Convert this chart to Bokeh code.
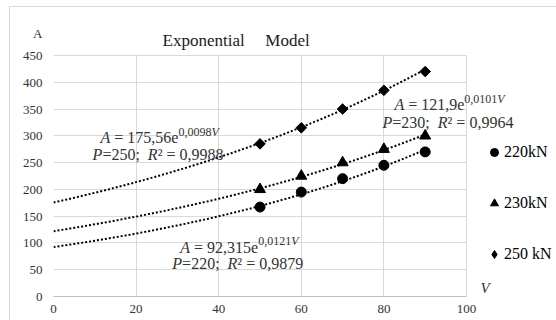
import numpy as np
from bokeh.plotting import figure
from bokeh.models import Range1d, Label, Legend, LegendItem, FixedTicker
from bokeh.embed import file_html
from bokeh.resources import INLINE

# ---------------- data ----------------
V = [50, 60, 70, 80, 90]
A_220 = [167, 195, 220, 245, 270]
A_230 = [200, 225, 250, 275, 300]
A_250 = [285, 315, 350, 385, 420]
legend_labels = ["220kN", "230kN", "250 kN"]
# exponential trendline coefficients A = a * e^(b V)
fit_a = {220: 92.315, 230: 121.9, 250: 175.56}
fit_b = {220: 0.0121, 230: 0.0101, 250: 0.0098}
eq_a_text = {220: "92,315", 230: "121,9", 250: "175,56"}
eq_b_text = {220: "0,0121", 230: "0,0101", 250: "0,0098"}
r2_text = {220: "0,9879", 230: "0,9964", 250: "0,9988"}
x_ticks = [0, 20, 40, 60, 80, 100]
y_ticks = [0, 50, 100, 150, 200, 250, 300, 350, 400, 450]
trend_v_max = 90
x_min, x_max = 0, 100
y_min, y_max = 0, 450

FONT = "Liberation Serif"
TXT = "#333333"

# layout (pixels)
W, H = 556, 320
LEFT, BOTTOM = 53, 24
PLOT_W, PLOT_H = 413, 241           # size of the 0..100 x 0..450 area
FRAME_W, FRAME_H = W - LEFT, H - BOTTOM
x_end = x_min + (x_max - x_min) * FRAME_W / PLOT_W
y_end = y_min + (y_max - y_min) * FRAME_H / PLOT_H

p = figure(
    width=W, height=H, title=None,
    min_border_left=LEFT, min_border_right=0, min_border_top=0, min_border_bottom=BOTTOM,
    x_range=Range1d(x_min, x_end), y_range=Range1d(y_min, y_end),
    output_backend="svg", toolbar_location=None,
)
p.outline_line_color = None
p.background_fill_color = "white"
p.border_fill_color = "white"
# light chart-area border (top and left), drawn by CSS over the canvas
p.stylesheets = [":host { position: relative; } :host::after { content: ''; position: absolute; "
                 "left: 9px; top: 6px; right: -2px; bottom: -2px; border-top: 1px solid #d9d9d9; "
                 "border-left: 1px solid #d9d9d9; pointer-events: none; }"]

A_tick = y_max + 42   # where the axis name "A" sits, above the top tick
for ax in (p.xaxis, p.yaxis):
    ax.major_label_text_font = FONT
    ax.major_label_text_font_size = "13px"
    ax.major_label_text_color = TXT
    ax.minor_tick_line_color = None
    ax.major_tick_in = 0
    ax.major_tick_out = 0
p.xaxis.ticker = FixedTicker(ticks=x_ticks)
p.xaxis.bounds = (x_min, x_max)
p.xaxis.axis_line_color = "#bfbfbf"
p.xaxis.major_label_standoff = 8
p.yaxis.ticker = FixedTicker(ticks=y_ticks + [A_tick])
p.yaxis.major_label_overrides = {A_tick: "A"}
p.yaxis.axis_line_color = None
p.yaxis.major_label_standoff = 11

p.xgrid.ticker = FixedTicker(ticks=x_ticks)
p.ygrid.ticker = FixedTicker(ticks=y_ticks)
p.xgrid.bounds = (x_min, x_max)
p.ygrid.bounds = (y_min, y_max)
p.xgrid.cross_bounds = (y_min, y_max)
p.ygrid.cross_bounds = (x_min, x_max)
p.grid.grid_line_color = "#d9d9d9"
p.grid.grid_line_width = 1

# trendlines
vv = np.linspace(0, trend_v_max, 181)
for k in (220, 230, 250):
    p.line(vv, fit_a[k] * np.exp(fit_b[k] * vv), line_color="black",
           line_width=2, line_dash="2 2")

r1 = p.scatter(V, A_220, marker="circle", size=10, color="black")
r2 = p.scatter(V, A_230, marker="triangle", size=11, color="black")
r3 = p.scatter(V, A_250, marker="square", angle=np.pi / 4, size=7.5, color="black")
# legend swatch for the diamond series (legend ignores marker rotation); hidden in the plot
r3_key = p.scatter(V, A_250, marker="diamond", size=12, color="black", visible=False)

legend = Legend(
    items=[LegendItem(label=legend_labels[0], renderers=[r1]),
           LegendItem(label=legend_labels[1], renderers=[r2]),
           LegendItem(label=legend_labels[2], renderers=[r3_key])],
    location=(431, 31), spacing=29, glyph_width=20, glyph_height=22,
    label_standoff=0, padding=0, margin=0, border_line_color=None,
    background_fill_alpha=0, label_text_font=FONT, label_text_font_size="16px",
    label_text_color="black", inactive_fill_alpha=0, click_policy="none",
)
p.add_layout(legend)

# ---------------- rich text helpers ----------------
WREG = {' ': 250, '=': 564, ',': 250, ';': 278, '.': 250, 'e': 444, '\u00b2': 300,
        'A': 722, 'V': 722, 'P': 556, 'R': 667, 'E': 611, 'M': 889}
WIT = {'A': 611, 'V': 611, 'P': 611, 'R': 611}


def tw(s, size, italic=False):
    tot = 0
    for c in s:
        if c.isdigit():
            tot += 500
        elif italic and c in WIT:
            tot += WIT[c]
        else:
            tot += WREG.get(c, 500)
    return tot * size / 1000.0


def add_label(**kw):
    p.add_layout(Label(text_font=FONT, text_baseline="alphabetic", text_align="left", **kw))


def rich(x, y, segs, color=TXT):
    widths = [tw(t, s, it) for t, it, s, r in segs]
    off = -sum(widths) / 2.0
    for (t, it, s, r), w in zip(segs, widths):
        lead = len(t) - len(t.lstrip(' '))
        st = t.strip(' ')
        if st:
            add_label(x=x, y=y, x_offset=off + tw(' ' * lead, s), y_offset=r, text=st,
                      text_font_size=f"{s}px",
                      text_font_style="italic" if it else "normal", text_color=color)
        off += w


def equation(k, x, y1, y2):
    rich(x, y1, [("A", True, 16, 0), (" = " + eq_a_text[k] + "e", False, 16, 0),
                 (eq_b_text[k], False, 12, 6), ("V", True, 12, 6)])
    rich(x, y2, [("P", True, 16, 0), ("=" + str(k) + ";  ", False, 16, 0),
                 ("R", True, 16, 0), ("\u00b2 = " + r2_text[k], False, 16, 0)])


equation(250, 25.7, 296, 266)
equation(230, 95.9, 358, 325)
equation(220, 45.0, 91.5, 61.6)

# title and horizontal axis name
add_label(x=26.4, y=478, text="Exponential", text_font_size="17px", text_color="#1a1a1a")
add_label(x=51.3, y=478, text="Model", text_font_size="17px", text_color="#1a1a1a")
add_label(x=103.4, y=15, text="V", text_font_size="15px", text_font_style="italic",
          text_color=TXT)

open("out.html", "w").write(file_html(p, INLINE))
